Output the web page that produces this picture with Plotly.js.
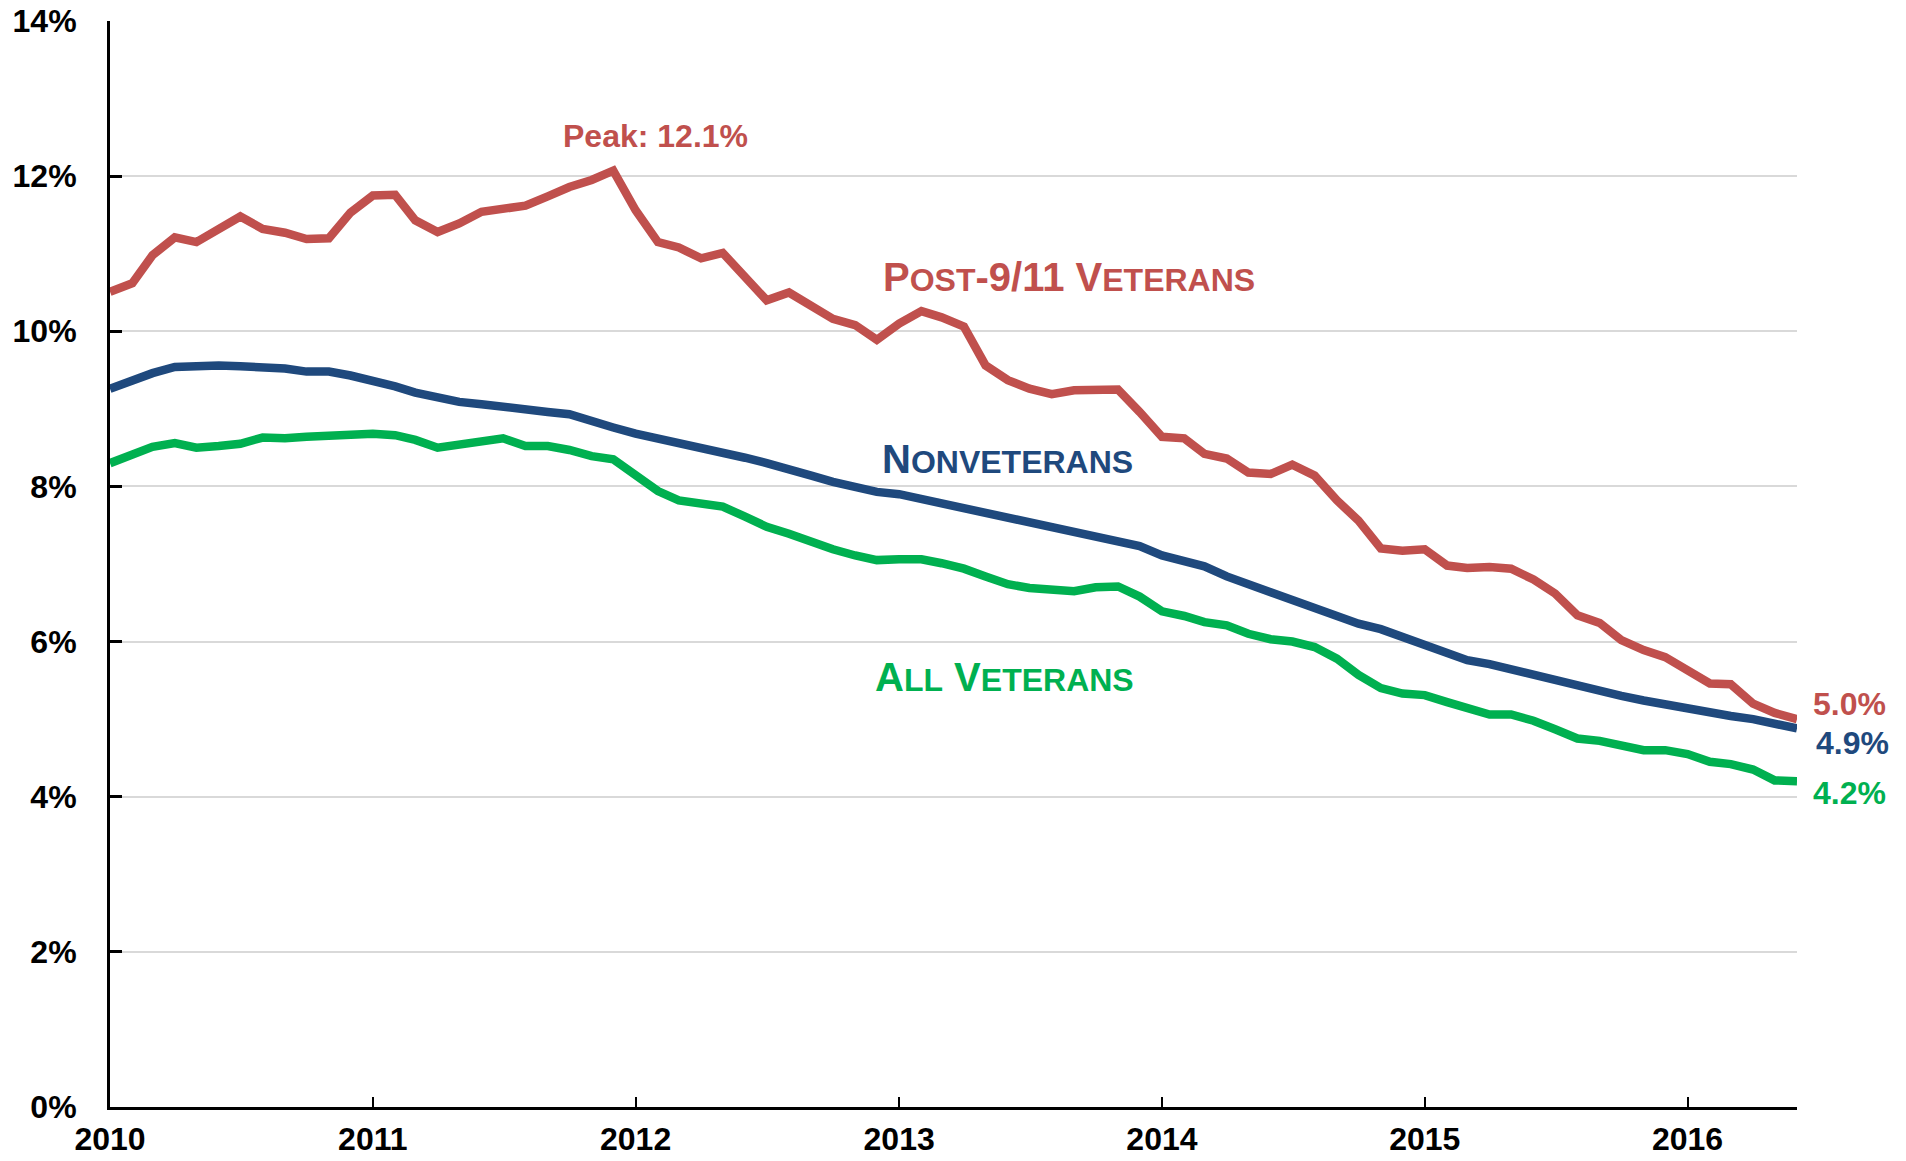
<!DOCTYPE html>
<html>
<head>
<meta charset="utf-8">
<script src="https://cdn.plot.ly/plotly-3.0.1.min.js"></script>
<style>
  html, body { margin: 0; padding: 0; background: #ffffff; }
  #chart { width: 1906px; height: 1161px; }
</style>
</head>
<body>
<div id="chart"></div>
<script>
// ---- Data (monthly, Jan 2010 – Jun 2016), unemployment rate in % ----
const startYear = 2010;
const monthCount = 78;

const post911Veterans = [
  10.51, 10.62, 10.98, 11.21, 11.15, 11.32, 11.48, 11.32, 11.27, 11.19, 11.20, 11.53,
  11.75, 11.76, 11.43, 11.28, 11.39, 11.54, 11.59, 11.62, 11.74, 11.86, 11.95, 12.07,
  11.56, 11.15, 11.08, 10.94, 11.01, 10.70, 10.40, 10.50, 10.34, 10.16, 10.08, 9.89,
  10.10, 10.26, 10.18, 10.06, 9.56, 9.37, 9.26, 9.19, 9.24, 9.25, 9.25, 8.96,
  8.64, 8.62, 8.42, 8.36, 8.18, 8.16, 8.28, 8.14, 7.82, 7.56, 7.20, 7.17,
  7.19, 6.98, 6.95, 6.96, 6.94, 6.80, 6.62, 6.34, 6.24, 6.02, 5.89, 5.80,
  5.63, 5.46, 5.45, 5.20, 5.08, 5.00
];

const nonveterans = [
  9.26, 9.37, 9.46, 9.54, 9.56, 9.56, 9.55, 9.54, 9.52, 9.48, 9.48, 9.43,
  9.37, 9.29, 9.21, 9.15, 9.09, 9.06, 9.02, 8.99, 8.96, 8.93, 8.83, 8.76,
  8.68, 8.62, 8.55, 8.48, 8.42, 8.37, 8.30, 8.23, 8.14, 8.06, 7.98, 7.93,
  7.90, 7.84, 7.78, 7.72, 7.66, 7.61, 7.54, 7.47, 7.41, 7.36, 7.31, 7.23,
  7.11, 7.03, 6.97, 6.84, 6.74, 6.63, 6.52, 6.43, 6.34, 6.23, 6.16, 6.06,
  5.98, 5.87, 5.76, 5.71, 5.64, 5.59, 5.51, 5.42, 5.35, 5.30, 5.24, 5.19,
  5.12, 5.07, 5.04, 5.00, 4.94, 4.88
];

const allVeterans = [
  8.30, 8.41, 8.51, 8.56, 8.50, 8.52, 8.55, 8.63, 8.62, 8.64, 8.65, 8.66,
  8.68, 8.66, 8.60, 8.50, 8.54, 8.60, 8.62, 8.52, 8.52, 8.47, 8.39, 8.35,
  8.13, 7.94, 7.82, 7.77, 7.74, 7.61, 7.48, 7.39, 7.28, 7.19, 7.11, 7.05,
  7.06, 7.06, 7.01, 6.94, 6.84, 6.74, 6.69, 6.66, 6.65, 6.70, 6.71, 6.58,
  6.39, 6.33, 6.25, 6.21, 6.10, 6.03, 6.00, 5.93, 5.78, 5.57, 5.40, 5.33,
  5.31, 5.22, 5.14, 5.06, 5.06, 4.98, 4.87, 4.75, 4.72, 4.67, 4.60, 4.60,
  4.55, 4.45, 4.42, 4.35, 4.21, 4.20
];

const yTickValues = [0, 2, 4, 6, 8, 10, 12, 14];
const yTickLabels = ['0%', '2%', '4%', '6%', '8%', '10%', '12%', '14%'];

// ---- Month dates ----
const months = [];
for (let i = 0; i < monthCount; i++) {
  const y = startYear + Math.floor(i / 12);
  const m = (i % 12) + 1;
  months.push(y + '-' + String(m).padStart(2, '0') + '-01');
}

const RED = '#C0504D';
const BLUE = '#1F497D';
const GREEN = '#00B050';
const FONT = 'Liberation Sans, Arial, Helvetica, sans-serif';
const LW = 8.5;

const traces = [
  { x: months, y: post911Veterans, type: 'scatter', mode: 'lines', name: 'Post-9/11 Veterans',
    line: { color: RED, width: LW, shape: 'linear' }, hoverinfo: 'skip' },
  { x: months, y: allVeterans, type: 'scatter', mode: 'lines', name: 'All Veterans',
    line: { color: GREEN, width: LW, shape: 'linear' }, hoverinfo: 'skip' },
  { x: months, y: nonveterans, type: 'scatter', mode: 'lines', name: 'Nonveterans',
    line: { color: BLUE, width: LW, shape: 'linear' }, hoverinfo: 'skip' }
];

const last = monthCount - 1;
let peakIdx = 0;
post911Veterans.forEach((v, i) => { if (v > post911Veterans[peakIdx]) peakIdx = i; });

const annotations = [
  { x: months[peakIdx], y: post911Veterans[peakIdx], xref: 'x', yref: 'y',
    text: 'Peak: ' + post911Veterans[peakIdx].toFixed(1) + '%', showarrow: false,
    xanchor: 'center', yanchor: 'middle', xshift: 42, yshift: 35,
    font: { family: FONT, size: 32, color: RED, weight: 'bold' } },
  { x: 0.5685, y: 10.70, xref: 'paper', yref: 'y',
    text: 'P<span style="font-size:32px">OST</span>-9/11 V<span style="font-size:32px">ETERANS</span>',
    showarrow: false, xanchor: 'center', yanchor: 'middle',
    font: { family: FONT, size: 40, color: RED, weight: 'bold' } },
  { x: 0.532, y: 8.36, xref: 'paper', yref: 'y',
    text: 'N<span style="font-size:32px">ONVETERANS</span>',
    showarrow: false, xanchor: 'center', yanchor: 'middle',
    font: { family: FONT, size: 40, color: BLUE, weight: 'bold' } },
  { x: 0.5305, y: 5.545, xref: 'paper', yref: 'y',
    text: 'A<span style="font-size:32px">LL</span> V<span style="font-size:32px">ETERANS</span>',
    showarrow: false, xanchor: 'center', yanchor: 'middle',
    font: { family: FONT, size: 40, color: GREEN, weight: 'bold' } },
  { x: months[last], y: post911Veterans[last], xref: 'x', yref: 'y',
    text: post911Veterans[last].toFixed(1) + '%', showarrow: false,
    xanchor: 'left', yanchor: 'middle', xshift: 14, yshift: 15,
    font: { family: FONT, size: 32, color: RED, weight: 'bold' } },
  { x: months[last], y: nonveterans[last], xref: 'x', yref: 'y',
    text: nonveterans[last].toFixed(1) + '%', showarrow: false,
    xanchor: 'left', yanchor: 'middle', xshift: 17, yshift: -15,
    font: { family: FONT, size: 32, color: BLUE, weight: 'bold' } },
  { x: months[last], y: allVeterans[last], xref: 'x', yref: 'y',
    text: allVeterans[last].toFixed(1) + '%', showarrow: false,
    xanchor: 'left', yanchor: 'middle', xshift: 14, yshift: -12,
    font: { family: FONT, size: 32, color: GREEN, weight: 'bold' } }
];

const layout = {
  width: 1906,
  height: 1161,
  margin: { l: 110, r: 109, t: 21, b: 54, pad: 0 },
  paper_bgcolor: '#ffffff',
  plot_bgcolor: '#ffffff',
  showlegend: false,
  font: { family: FONT, color: '#000000' },
  xaxis: {
    type: 'date',
    range: [months[0], months[last]],
    tick0: months[0],
    dtick: 'M12',
    tickformat: '%Y',
    showgrid: false,
    zeroline: false,
    showline: true,
    linecolor: '#000000',
    linewidth: 3,
    ticks: 'inside',
    ticklen: 10,
    tickwidth: 2,
    tickcolor: '#000000',
    ticklabelstandoff: 2,
    tickfont: { family: FONT, size: 32, color: '#000000', weight: 'bold' },
    fixedrange: true
  },
  yaxis: {
    range: [0, 14],
    tickvals: yTickValues,
    ticktext: yTickLabels,
    showgrid: true,
    gridcolor: '#D9D9D9',
    gridwidth: 2,
    zeroline: false,
    showline: true,
    linecolor: '#000000',
    linewidth: 3,
    ticks: 'inside',
    ticklen: 12,
    tickwidth: 3,
    tickcolor: '#000000',
    ticklabelstandoff: 24,
    tickfont: { family: FONT, size: 32, color: '#000000', weight: 'bold' },
    fixedrange: true
  },
  annotations: annotations
};

Plotly.newPlot('chart', traces, layout, { displayModeBar: false, staticPlot: true });
</script>
</body>
</html>
